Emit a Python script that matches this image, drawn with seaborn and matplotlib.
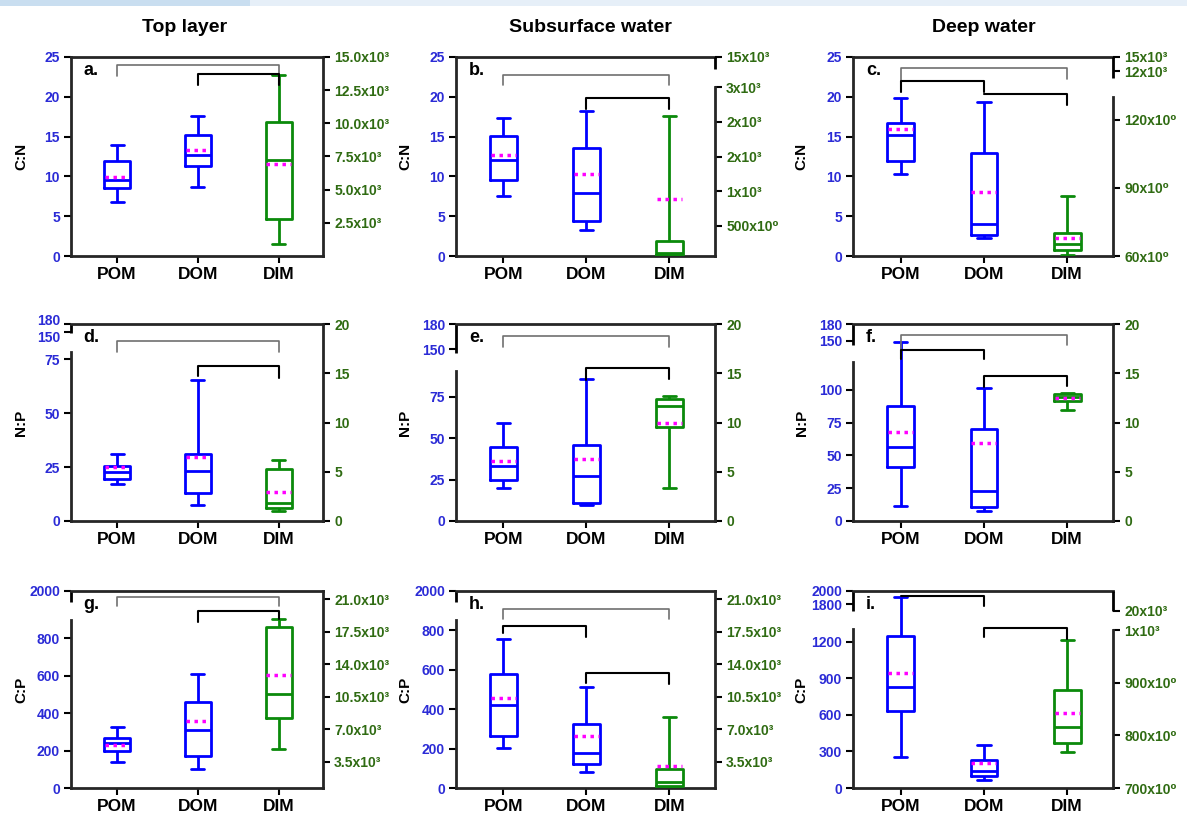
"""
Elemental ratios (C:N, N:P, C:P) of POM, DOM and DIM across the water column.
Box = quartiles, whiskers = min/max, magenta dotted line = mean.
DIM is drawn against the green right-hand axis.
"""
import matplotlib
matplotlib.use("Agg")
import matplotlib.pyplot as plt
import matplotlib.transforms as mtransforms
import numpy as np
import pandas as pd
import seaborn as sns
from matplotlib.patches import Rectangle

GROUPS = ["POM", "DOM", "DIM"]
COLUMNS = ["Top layer", "Subsurface water", "Deep water"]

# five-number summaries per group: [min, q1, median, q3, max]
# POM / DOM on the left (blue) axis, DIM on the right (green) axis
cn_top = [[6.8, 8.5, 9.6, 11.9, 14.0], [8.7, 11.3, 12.7, 15.2, 17.6], [900, 2800, 7250, 10100, 13650]]
cn_top_mean = [9.9, 13.3, 6900]
cn_sub = [[7.6, 9.6, 12.1, 15.1, 17.3], [3.3, 4.4, 7.9, 13.6, 18.2], [60, 80, 110, 270, 2080]]
cn_sub_mean = [12.7, 10.3, 890]
cn_deep = [[10.3, 11.9, 15.2, 16.7, 19.8], [2.3, 2.7, 4.0, 13.0, 19.4], [60.4, 62.7, 65.3, 70.0, 86.6]]
cn_deep_mean = [16.0, 8.0, 68.1]

np_top = [[17.0, 19.6, 22.6, 25.4, 31.3], [7.6, 12.9, 23.0, 31.2, 65.6], [0.98, 1.32, 1.83, 5.3, 6.2]]
np_top_mean = [25.0, 29.9, 2.95]
np_sub = [[20.2, 24.9, 33.0, 44.5, 59.5], [9.5, 10.7, 26.9, 45.9, 85.7], [3.4, 9.5, 11.7, 12.4, 12.7]]
np_sub_mean = [36.0, 37.2, 9.9]
np_deep = [[11.7, 40.9, 56.2, 87.5, 148], [7.3, 10.7, 23.1, 70.5, 101.8], [11.3, 12.2, 12.6, 12.9, 13.0]]
np_deep_mean = [67.6, 59.5, 12.5]

cp_top = [[137, 196, 240, 265, 327], [102, 170, 309, 459, 612], [4900, 8285, 10770, 17975, 18905]]
cp_top_mean = [229, 357, 12820]
cp_sub = [[202, 264, 421, 578, 756], [79, 120, 178, 325, 514], [700, 840, 1280, 2710, 8310]]
cp_sub_mean = [456, 261, 3070]
cp_deep = [[254, 633, 832, 1249, 1903], [68, 95, 136, 232, 355], [768, 785, 817, 887, 981]]
cp_deep_mean = [946, 205, 842]

# axis ticks and labels
CN_TICKS = [0, 5, 10, 15, 20, 25]
NP_RIGHT_TICKS = [0, 5, 10, 15, 20]
CP_RIGHT_TICKS = [3500, 7000, 10500, 14000, 17500, 21000]
CP_RIGHT_LABELS = ["3.5x10³", "7.0x10³", "10.5x10³", "14.0x10³", "17.5x10³", "21.0x10³"]

BLUE = "#0000ff"
GREEN = "#0b8a0b"
MAGENTA = "#ff00ff"
LEFT_LABEL = "#2b2bd6"
RIGHT_LABEL = "#2f6b12"

sns.set_style("ticks")
plt.rcParams["font.family"] = ["Liberation Sans", "DejaVu Sans"]
plt.rcParams["text.color"] = "black"
plt.rcParams["axes.labelcolor"] = "black"
plt.rcParams["xtick.color"] = "black"
plt.rcParams["ytick.color"] = "black"


def piecewise(xp, fp):
    """Piecewise-linear map with linear extrapolation (used for broken axes)."""
    xp = np.asarray(xp, float)
    fp = np.asarray(fp, float)
    s0 = (fp[1] - fp[0]) / (xp[1] - xp[0])
    s1 = (fp[-1] - fp[-2]) / (xp[-1] - xp[-2])

    def f(v):
        v = np.asarray(v, float)
        out = np.interp(v, xp, fp)
        out = np.where(v < xp[0], fp[0] + (v - xp[0]) * s0, out)
        return np.where(v > xp[-1], fp[-1] + (v - xp[-1]) * s1, out)
    return f


def set_axis(a, cfg, side, label_color):
    vals, fracs, ticks, labels = cfg
    a.set_yscale("function", functions=(piecewise(vals, fracs), piecewise(fracs, vals)))
    a.set_ylim(vals[0], vals[-1])
    a.set_yticks(ticks, labels, fontweight="bold", fontsize=10)
    a.tick_params(axis="y", which="major", colors="black", labelcolor=label_color,
                  width=1.5, length=5, direction="out", pad=3)
    a.tick_params(axis="y", which="minor", length=0)
    spine = a.spines[side]
    spine.set_linewidth(2)
    if len(vals) == 4:
        # broken axis: lower segment is the spine, upper segment drawn by hand
        spine.set_bounds(vals[0], vals[1])
        x = 0 if side == "left" else 1
        a.plot([x, x], [vals[2], vals[3]], transform=a.get_yaxis_transform(),
               color="black", lw=2, clip_on=False, solid_capstyle="butt")


def draw_panel(fig, rect, stats, means, left_cfg, right_cfg, letter, ylabel, brackets):
    ax = fig.add_axes(rect)
    ax2 = ax.twinx()
    df = pd.DataFrame([(g, v) for g, vals in zip(GROUPS, stats) for v in vals],
                      columns=["group", "value"])
    common = dict(x="group", y="value", order=GROUPS, fill=False, width=0.32,
                  whis=(0, 100), linewidth=2, showfliers=False)
    sns.boxplot(data=df[df["group"] != "DIM"], color=BLUE, ax=ax, **common)
    sns.boxplot(data=df[df["group"] == "DIM"], color=GREEN, ax=ax2, **common)
    for i, (g, m) in enumerate(zip(GROUPS, means)):
        target = ax2 if g == "DIM" else ax
        target.hlines(m, i - 0.15, i + 0.15, colors=MAGENTA, linestyles=(0, (1, 1.3)),
                      linewidth=2.5, zorder=5)

    set_axis(ax, left_cfg, "left", LEFT_LABEL)
    set_axis(ax2, right_cfg, "right", RIGHT_LABEL)

    for s in ["top", "bottom"]:
        ax.spines[s].set_linewidth(2)
    ax.spines["right"].set_visible(False)
    for s in ["left", "top", "bottom"]:
        ax2.spines[s].set_visible(False)

    ax.set_xlim(-0.57, 2.55)
    ax.set_xticks(range(len(GROUPS)), GROUPS, fontweight="bold", fontsize=12.5, color="black")
    ax.tick_params(axis="x", width=1.5, length=5, pad=3, colors="black")
    ax.set_xlabel("")
    ax2.set_ylabel("")
    ax.set_ylabel(ylabel, fontweight="bold", fontsize=11, color="black")
    ax.yaxis.set_label_coords(-0.17, 0.5)
    ax.text(0.05, 0.93, letter, transform=ax.transAxes, fontsize=13,
            fontweight="bold", va="center", ha="left", color="black")

    # significance brackets: (x1, x2, height, left drop, right drop, colour)
    for x1, x2, y, d1, d2, c in brackets:
        ax2.plot([x1, x1, x2, x2], [y - d1, y, y, y - d2],
                 transform=ax2.get_xaxis_transform(), color=c,
                 lw=1.2 if c != "black" else 1.5, clip_on=False, zorder=6)
    return ax, ax2


GRAY = "#707070"
K = "black"

cn_left = ([0, 25], [0, 1], CN_TICKS, [str(t) for t in CN_TICKS])
np_right = ([0, 20], [0, 1], NP_RIGHT_TICKS, [str(t) for t in NP_RIGHT_TICKS])

panels = [
    dict(stats=cn_top, means=cn_top_mean, letter="a.", ylabel="C:N", left=cn_left,
         right=([0, 15000], [0, 1], [2500, 5000, 7500, 10000, 12500, 15000],
                ["2.5x10³", "5.0x10³", "7.5x10³", "10.0x10³", "12.5x10³", "15.0x10³"]),
         brackets=[(0, 2, 0.96, 0.055, 0.055, GRAY), (1, 2, 0.915, 0.056, 0.056, K)]),
    dict(stats=cn_sub, means=cn_sub_mean, letter="b.", ylabel="C:N", left=cn_left,
         right=([60, 2500, 14000, 15000], [0, 0.847, 0.939, 1],
                [500, 1000, 1500, 2000, 2500, 15000],
                ["500x10⁰", "1x10³", "2x10³", "2x10³", "3x10³", "15x10³"]),
         brackets=[(0, 2, 0.909, 0.05, 0.05, GRAY), (1, 2, 0.793, 0.056, 0.056, K)]),
    dict(stats=cn_deep, means=cn_deep_mean, letter="c.", ylabel="C:N", left=cn_left,
         right=([60, 130, 10400, 15000], [0, 0.8, 0.892, 1], [60, 90, 120, 12000, 15000],
                ["60x10⁰", "90x10⁰", "120x10⁰", "12x10³", "15x10³"]),
         brackets=[(0, 2, 0.947, 0.067, 0.058, GRAY), (0, 1, 0.880, 0.054, 0.054, K),
                   (1, 2, 0.813, 0.0, 0.054, K)]),
    dict(stats=np_top, means=np_top_mean, letter="d.", ylabel="N:P",
         left=([0, 78.5, 146, 180], [0, 0.859, 0.954, 1], [0, 25, 50, 75, 150, 180],
               ["0", "25", "50", "75", "150", "180"]),
         right=np_right,
         brackets=[(0, 2, 0.915, 0.056, 0.056, GRAY), (1, 2, 0.788, 0.053, 0.06, K)]),
    dict(stats=np_sub, means=np_sub_mean, letter="e.", ylabel="N:P",
         left=([0, 90.6, 144.8, 180], [0, 0.761, 0.851, 1], [0, 25, 50, 75, 150, 180],
               ["0", "25", "50", "75", "150", "180"]),
         right=np_right,
         brackets=[(0, 2, 0.939, 0.055, 0.055, GRAY), (1, 2, 0.777, 0.06, 0.058, K)]),
    dict(stats=np_deep, means=np_deep_mean, letter="f.", ylabel="N:P",
         left=([0, 121, 142.8, 180], [0, 0.805, 0.895, 1], [0, 25, 50, 75, 100, 150, 180],
               ["0", "25", "50", "75", "100", "150", "180"]),
         right=np_right,
         brackets=[(0, 2, 0.946, 0.076, 0.055, GRAY), (0, 1, 0.870, 0.05, 0.05, K),
                   (1, 2, 0.738, 0.06, 0.051, K)]),
    dict(stats=cp_top, means=cp_top_mean, letter="g.", ylabel="C:P",
         left=([0, 900, 1900, 2000], [0, 0.854, 0.944, 1], [0, 200, 400, 600, 800, 2000],
               ["0", "200", "400", "600", "800", "2000"]),
         right=([700, 21900], [0, 1], CP_RIGHT_TICKS, CP_RIGHT_LABELS),
         brackets=[(0, 2, 0.969, 0.047, 0.047, GRAY), (1, 2, 0.897, 0.055, 0.037, K)]),
    dict(stats=cp_sub, means=cp_sub_mean, letter="h.", ylabel="C:P",
         left=([0, 850, 1900, 2000], [0, 0.852, 0.944, 1], [0, 200, 400, 600, 800, 2000],
               ["0", "200", "400", "600", "800", "2000"]),
         right=([670, 21900], [0, 1], CP_RIGHT_TICKS, CP_RIGHT_LABELS),
         brackets=[(0, 2, 0.907, 0.05, 0.05, GRAY), (0, 1, 0.821, 0.034, 0.057, K),
                   (1, 2, 0.583, 0.052, 0.053, K)]),
    dict(stats=cp_deep, means=cp_deep_mean, letter="i.", ylabel="C:P",
         left=([0, 1301, 1692, 2000], [0, 0.805, 0.897, 1],
               [0, 300, 600, 900, 1200, 1800, 2000],
               ["0", "300", "600", "900", "1200", "1800", "2000"]),
         right=([700, 1000, 20000, 21300], [0, 0.80, 0.899, 1],
                [700, 800, 900, 1000, 20000],
                ["700x10⁰", "800x10⁰", "900x10⁰", "1x10³", "20x10³"]),
         brackets=[(0, 1, 0.975, 0.0, 0.052, K), (1, 2, 0.813, 0.049, 0.059, K)]),
]

W, H = 1187, 813
col_left = [71, 456, 853]
col_right = [323, 715, 1113]
row_top = [57, 324, 591]
row_bottom = [256, 521, 788]

fig = plt.figure(figsize=(W / 100, H / 100), dpi=100)
fig.add_artist(Rectangle((0, 1 - 6 / H), 250 / W, 6 / H, transform=fig.transFigure,
                         color="#c9def0", lw=0))
fig.add_artist(Rectangle((250 / W, 1 - 6 / H), 1, 6 / H, transform=fig.transFigure,
                         color="#e6eff8", lw=0))

axes = []
for k, p in enumerate(panels):
    r, c = divmod(k, 3)
    rect = [col_left[c] / W, 1 - row_bottom[r] / H,
            (col_right[c] - col_left[c]) / W, (row_bottom[r] - row_top[r]) / H]
    axes.append(draw_panel(fig, rect, p["stats"], p["means"], p["left"], p["right"],
                           p["letter"], p["ylabel"], p["brackets"]))

# panel d: the 180 / 150 labels sit almost on top of each other; pull them apart a bit
ax_d = axes[3][0]
for lbl in ax_d.get_yticklabels():
    if lbl.get_text() == "180":
        lbl.set_transform(lbl.get_transform() + mtransforms.ScaledTranslation(0, 3 / 72, fig.dpi_scale_trans))
    elif lbl.get_text() == "150":
        lbl.set_transform(lbl.get_transform() + mtransforms.ScaledTranslation(0, -3 / 72, fig.dpi_scale_trans))

for x, title in zip([185, 590, 984], COLUMNS):
    fig.text(x / W, 1 - 27 / H, title, ha="center", va="center",
             fontsize=14, fontweight="bold")

fig.savefig("out.png", dpi=100)
